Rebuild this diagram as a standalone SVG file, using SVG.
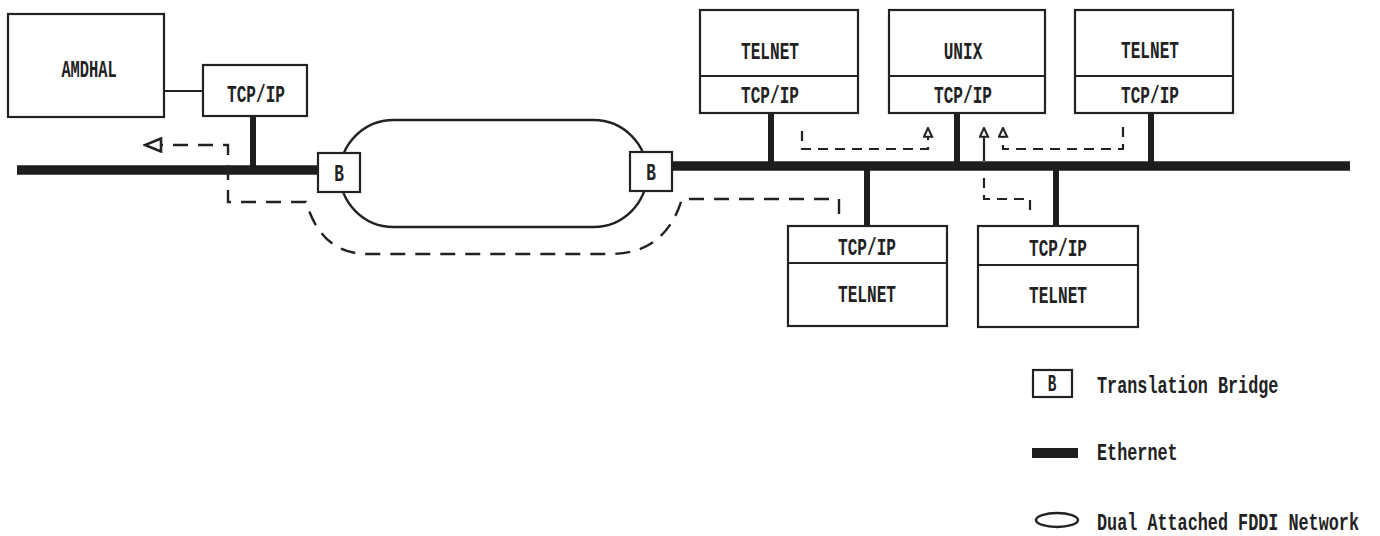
<svg xmlns="http://www.w3.org/2000/svg" width="1380" height="536" viewBox="0 0 1380 536">
<style>
.box{fill:#fff;stroke:#222;stroke-width:2.2}
.div{stroke:#222;stroke-width:2}
.thin{stroke:#222;stroke-width:1.8;fill:none}
.eth{stroke:#1e1e1e;stroke-width:9.5;stroke-linecap:butt}
.stub{stroke:#1e1e1e;stroke-width:6}
.ring{fill:#fff;stroke:#222;stroke-width:2.4}
.dash{fill:none;stroke:#222;stroke-width:2.4;stroke-dasharray:15 10}
.dash2{fill:none;stroke:#222;stroke-width:2.2;stroke-dasharray:10 7}
.t{font-family:"Liberation Mono","DejaVu Sans Mono",monospace;font-size:24px;font-weight:bold;fill:#222;text-anchor:middle}
.lg{font-family:"Liberation Mono","DejaVu Sans Mono",monospace;font-size:24px;font-weight:bold;fill:#222}
</style>
<defs>
<marker id="bigArrow" viewBox="0 0 20 16" refX="18" refY="8" markerWidth="20" markerHeight="16" markerUnits="userSpaceOnUse" orient="auto">
<path d="M18 8 L2 1.5 L2 14.5 Z" fill="#fff" stroke="#222" stroke-width="2.6"/>
</marker>
<marker id="smallArrow" viewBox="0 0 12 12" refX="11" refY="6" markerWidth="11" markerHeight="11" markerUnits="userSpaceOnUse" orient="auto">
<path d="M11 6 L1.5 1.5 L1.5 10.5 Z" fill="#fff" stroke="#222" stroke-width="2.2"/>
</marker>
</defs>
<rect width="1380" height="536" fill="#fff"/>

<g id="fddi-ring">
<rect class="ring" x="340" y="120" width="307" height="107" rx="53.5" ry="53.5"/>
</g>

<g id="connectors">
<line class="eth" x1="17" y1="170" x2="318" y2="170"/>
<line class="eth" x1="672" y1="166" x2="1350" y2="166"/>
<line class="thin" x1="164" y1="91" x2="203" y2="91"/>
<line class="stub" x1="253" y1="116" x2="253" y2="170"/>
<line class="stub" x1="771" y1="113" x2="771" y2="166"/>
<line class="stub" x1="957" y1="113" x2="957" y2="166"/>
<line class="stub" x1="1151" y1="113" x2="1151" y2="166"/>
<line class="stub" x1="867" y1="166" x2="867" y2="226"/>
<line class="stub" x1="1056" y1="166" x2="1056" y2="226"/>
<path class="dash" d="M839 214 L839 199 L682 199 C670 238 645 254 610 254 L368 254 C335 254 316 235 306 202 L228 202 L228 145 L145 145" marker-end="url(#bigArrow)"/>
<path class="dash2" d="M802 131 L802 149 L928 149 L928 128" marker-end="url(#smallArrow)"/>
<path class="dash2" d="M1123 127 L1123 149 L1003 149 L1003 128" marker-end="url(#smallArrow)"/>
<path class="dash2" d="M1030 210 L1030 199 L984 199 L984 172"/>
<line class="thin" x1="984" y1="161" x2="984" y2="128" style="stroke-width:2.2" marker-end="url(#smallArrow)"/>
</g>

<g id="amdahl">
<rect class="box" x="8" y="14" width="156" height="103"/>
<text class="t" transform="translate(89,77) scale(0.64,1)">AMDHAL</text>
</g>
<g id="amdahl-tcpip">
<rect class="box" x="203" y="65" width="104" height="51"/>
<text class="t" transform="translate(256,102) scale(0.67,1)">TCP/IP</text>
</g>

<g id="bridge-left">
<rect class="box" x="318" y="153" width="42" height="39"/>
<text class="t" transform="translate(339,181) scale(0.67,1)">B</text>
</g>
<g id="bridge-right">
<rect class="box" x="630" y="152" width="42" height="39"/>
<text class="t" transform="translate(651,180) scale(0.67,1)">B</text>
</g>

<g id="telnet-1">
<rect class="box" x="700" y="10" width="158" height="103"/>
<line class="div" x1="700" y1="76" x2="858" y2="76"/>
<text class="t" transform="translate(770,59) scale(0.67,1)">TELNET</text>
<text class="t" transform="translate(770,103) scale(0.67,1)">TCP/IP</text>
</g>
<g id="unix">
<rect class="box" x="889" y="10" width="156" height="103"/>
<line class="div" x1="889" y1="76" x2="1045" y2="76"/>
<text class="t" transform="translate(963,59) scale(0.67,1)">UNIX</text>
<text class="t" transform="translate(963,103) scale(0.67,1)">TCP/IP</text>
</g>
<g id="telnet-3">
<rect class="box" x="1075" y="10" width="158" height="103"/>
<line class="div" x1="1075" y1="76" x2="1233" y2="76"/>
<text class="t" transform="translate(1150,58) scale(0.67,1)">TELNET</text>
<text class="t" transform="translate(1150,103) scale(0.67,1)">TCP/IP</text>
</g>
<g id="telnet-4">
<rect class="box" x="788" y="226" width="159" height="100"/>
<line class="div" x1="788" y1="263" x2="947" y2="263"/>
<text class="t" transform="translate(867,255) scale(0.67,1)">TCP/IP</text>
<text class="t" transform="translate(867,302) scale(0.67,1)">TELNET</text>
</g>
<g id="telnet-5">
<rect class="box" x="978" y="226" width="160" height="101"/>
<line class="div" x1="978" y1="265" x2="1138" y2="265"/>
<text class="t" transform="translate(1058,256) scale(0.67,1)">TCP/IP</text>
<text class="t" transform="translate(1058,303) scale(0.67,1)">TELNET</text>
</g>

<g id="legend">
<rect class="box" x="1033" y="370" width="39" height="27"/>
<text class="t" transform="translate(1052,391) scale(0.6,1)">B</text>
<text class="lg" transform="translate(1097,393) scale(0.7,1)">Translation Bridge</text>
<rect x="1032" y="448" width="46" height="10" fill="#1e1e1e"/>
<text class="lg" transform="translate(1097,460) scale(0.7,1)">Ethernet</text>
<ellipse cx="1057" cy="520" rx="21" ry="7" fill="none" stroke="#222" stroke-width="2.4"/>
<text class="lg" transform="translate(1097,530) scale(0.7,1)">Dual Attached FDDI Network</text>
</g>
</svg>
